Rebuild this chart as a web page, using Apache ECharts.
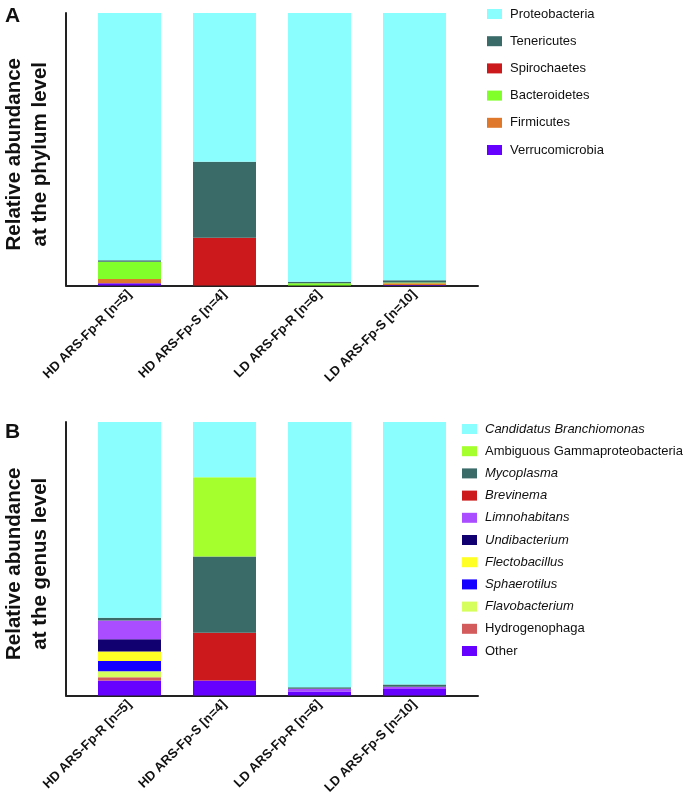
<!DOCTYPE html>
<html>
<head>
<meta charset="utf-8">
<script src="https://cdn.jsdelivr.net/npm/echarts@6/dist/echarts.min.js"></script>
<style>html,body{margin:0;padding:0;background:#fff}#c{width:685px;height:796px}</style>
</head>
<body>
<div id="c"></div>
<script>
const categories = ['HD ARS-Fp-R [n=5]', 'HD ARS-Fp-S [n=4]', 'LD ARS-Fp-R [n=6]', 'LD ARS-Fp-S [n=10]'];

// Panel A: phylum level (%)
const proteobacteria  = [90.7, 54.6, 98.6, 98.1];
const tenericutes     = [0.6, 27.9, 0.6, 0.8];
const spirochaetes    = [0, 17.5, 0, 0];
const bacteroidetes   = [6.3, 0, 0.8, 0.3];
const firmicutes      = [1.6, 0, 0, 0.6];
const verrucomicrobia = [0.8, 0, 0, 0.2];

// Panel B: genus level (%)
const candidatus     = [71.6, 20.2, 97.0, 96.0];
const ambiguous      = [0, 29.0, 0, 0];
const mycoplasma     = [1.0, 27.9, 0.5, 0.8];
const brevinema      = [0, 17.4, 0, 0];
const limnohabitans  = [6.8, 0, 1.0, 0.8];
const undibacterium  = [4.5, 0, 0, 0];
const flectobacillus = [3.5, 0, 0, 0];
const sphaerotilus   = [3.7, 0, 0, 0];
const flavobacterium = [2.2, 0, 0, 0];
const hydrogenophaga = [1.2, 0, 0, 0];
const other          = [5.5, 5.5, 1.5, 2.4];

const phylumSeries = [
  ['Verrucomicrobia', verrucomicrobia, '#6600ff'],
  ['Firmicutes', firmicutes, '#e0782c'],
  ['Bacteroidetes', bacteroidetes, '#80ff2a'],
  ['Spirochaetes', spirochaetes, '#cc191c'],
  ['Tenericutes', tenericutes, '#3a6b69'],
  ['Proteobacteria', proteobacteria, '#8afefe']
];
const genusSeries = [
  ['Other', other, '#6600ff'],
  ['Hydrogenophaga', hydrogenophaga, '#d45b5b'],
  ['Flavobacterium', flavobacterium, '#d6ff5e'],
  ['Sphaerotilus', sphaerotilus, '#1500ff'],
  ['Flectobacillus', flectobacillus, '#ffff26'],
  ['Undibacterium', undibacterium, '#110070'],
  ['Limnohabitans', limnohabitans, '#aa4cff'],
  ['Brevinema', brevinema, '#cc191c'],
  ['Mycoplasma', mycoplasma, '#3a6b69'],
  ['Ambiguous Gammaproteobacteria', ambiguous, '#a4ff2c'],
  ['Candidatus Branchiomonas', candidatus, '#8afefe']
];
const italicNames = ['Candidatus Branchiomonas','Mycoplasma','Brevinema','Limnohabitans','Undibacterium','Flectobacillus','Sphaerotilus','Flavobacterium'];

const FONT = 'Liberation Sans, Arial, Helvetica, sans-serif';
const chart = echarts.init(document.getElementById('c'));

function dataGridAxes(gi) {
  return {
    x: {type: 'category', gridIndex: gi, data: categories,
        axisLine: {show: false}, axisTick: {show: false},
        axisLabel: {rotate: 45, interval: 0, margin: 7, fontFamily: FONT, fontWeight: 'bold', fontSize: 13, color: '#111'}},
    y: {type: 'value', gridIndex: gi, min: 0, max: 100, show: false}
  };
}
function lineGridAxes(gi, name) {
  return {
    x: {type: 'value', gridIndex: gi, min: 0, max: 1, axisLine: {show: true, lineStyle: {color: '#222', width: 2}},
        axisTick: {show: false}, axisLabel: {show: false}, splitLine: {show: false}},
    y: {type: 'value', gridIndex: gi, min: 0, max: 1, axisLine: {show: true, lineStyle: {color: '#222', width: 2}},
        axisTick: {show: false}, axisLabel: {show: false}, splitLine: {show: false},
        name: name, nameLocation: 'middle', nameGap: 13,
        nameTextStyle: {fontFamily: FONT, fontWeight: 'bold', fontSize: 20.5, lineHeight: 26, color: '#111', padding: [0, 10, 0, 0]}}
  };
}
const a0 = dataGridAxes(0), a1 = lineGridAxes(1, 'Relative abundance\nat the phylum level');
const a2 = dataGridAxes(2), a3 = lineGridAxes(3, 'Relative abundance\nat the genus level');

const series = [];
phylumSeries.forEach(([n, d, c]) => series.push({
  name: n, type: 'bar', stack: 'A', xAxisIndex: 0, yAxisIndex: 0, data: d, barWidth: 63,
  itemStyle: {color: c}, emphasis: {disabled: true}
}));
genusSeries.forEach(([n, d, c]) => series.push({
  name: n, type: 'bar', stack: 'B', xAxisIndex: 2, yAxisIndex: 2, data: d, barWidth: 63,
  itemStyle: {color: c}, emphasis: {disabled: true}
}));

const gridBase = {outerBoundsMode: 'none', containLabel: false};
chart.setOption({
  animation: false,
  title: [
    {text: 'A', left: 5, top: 6, padding: 0, textStyle: {fontFamily: FONT, fontWeight: 'bold', fontSize: 21, color: '#111'}},
    {text: 'B', left: 5, top: 422, padding: 0, textStyle: {fontFamily: FONT, fontWeight: 'bold', fontSize: 21, color: '#111'}}
  ],
  grid: [
    Object.assign({left: 82, width: 380, top: 13, height: 272.5}, gridBase),
    Object.assign({left: 66, width: 412, top: 13, height: 272.5}, gridBase),
    Object.assign({left: 82, width: 380, top: 422, height: 273.5}, gridBase),
    Object.assign({left: 66, width: 412, top: 422, height: 273.5}, gridBase)
  ],
  xAxis: [a0.x, a1.x, a2.x, a3.x],
  yAxis: [a0.y, a1.y, a2.y, a3.y],
  legend: [
    {data: phylumSeries.map(s => s[0]).reverse(), orient: 'vertical', left: 487, top: 7, padding: 0,
     itemWidth: 15, itemHeight: 10, itemGap: 13.2, icon: 'rect', selectedMode: false,
     textStyle: {fontFamily: FONT, fontSize: 13, color: '#111', lineHeight: 14, padding: [0, 0, 0, 3]}},
    {data: genusSeries.map(s => s[0]).reverse(), orient: 'vertical', left: 462, top: 422, padding: 0,
     itemWidth: 15, itemHeight: 10, itemGap: 8.2, icon: 'rect', selectedMode: false,
     formatter: n => italicNames.includes(n) ? '{i|' + n + '}' : n,
     textStyle: {fontFamily: FONT, fontSize: 13, color: '#111', lineHeight: 14, padding: [0, 0, 0, 3],
       rich: {i: {fontFamily: FONT, fontSize: 13, fontStyle: 'italic', color: '#111', lineHeight: 14}}}}
  ],
  series: series
});
</script>
</body>
</html>
